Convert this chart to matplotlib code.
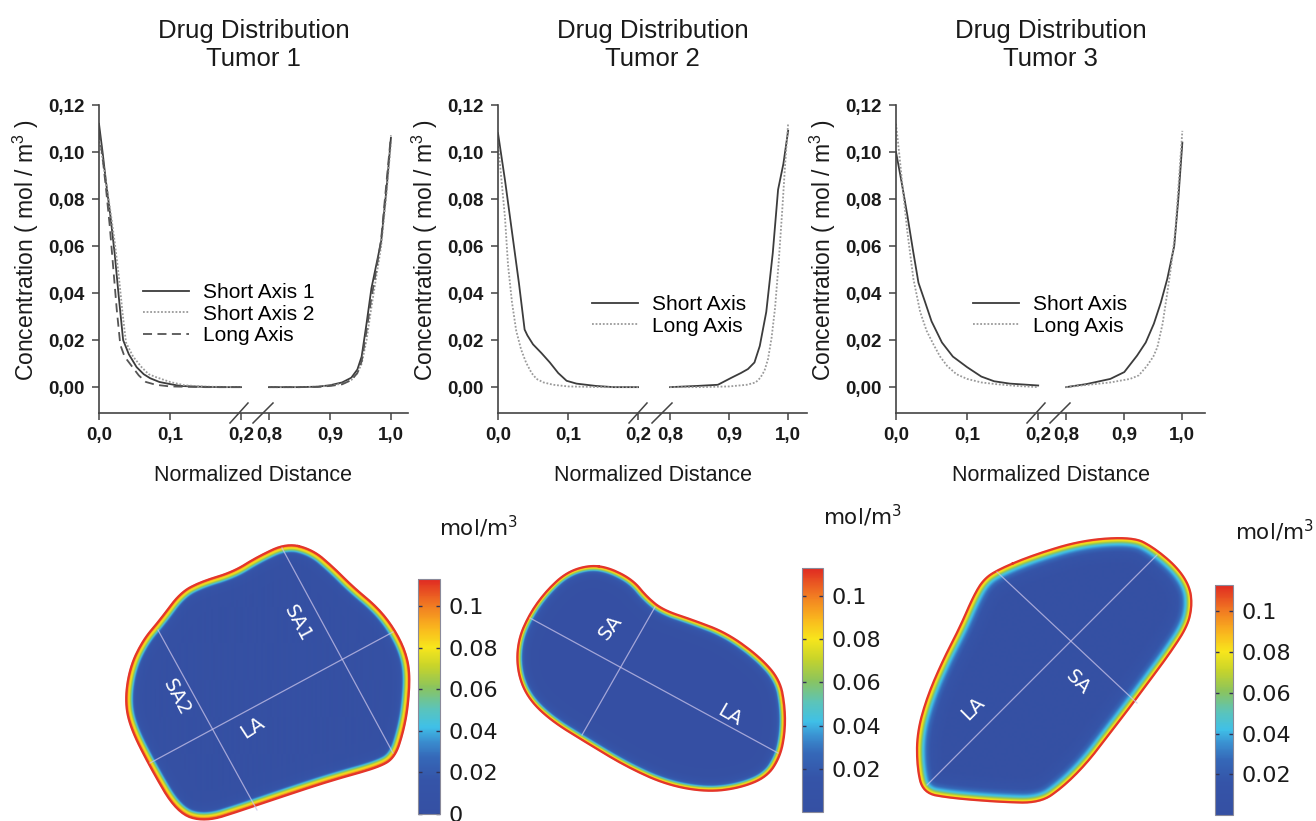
import numpy as np
import matplotlib
matplotlib.use("Agg")
import matplotlib.pyplot as plt
from matplotlib.path import Path
from matplotlib.colors import LinearSegmentedColormap, Normalize
from matplotlib.cm import ScalarMappable

plt.rcParams['font.family'] = ['Liberation Sans', 'DejaVu Sans']
plt.rcParams['mathtext.default'] = 'regular'

W, H = 1316, 821

# ---------------- DATA: concentration profiles -------------
# Tumor 1
t1_sa1_lx = [0.0, 0.005, 0.010, 0.016, 0.022, 0.028, 0.034, 0.042, 0.053, 0.063, 0.072, 0.085, 0.100, 0.115, 0.140, 0.170, 0.200]
t1_sa1_ly = [0.112, 0.100, 0.087, 0.073, 0.057, 0.038, 0.020, 0.014, 0.0085, 0.0055, 0.0038, 0.0022, 0.0013, 0.0005, 0.0002, 0.0, 0.0]
t1_sa2_lx = [0.0, 0.005, 0.010, 0.016, 0.022, 0.028, 0.033, 0.038, 0.048, 0.060, 0.070, 0.080, 0.100, 0.120, 0.150, 0.200]
t1_sa2_ly = [0.106, 0.097, 0.087, 0.075, 0.062, 0.047, 0.032, 0.019, 0.013, 0.0085, 0.0055, 0.0043, 0.0022, 0.0008, 0.0002, 0.0]
t1_la_lx = [0.0, 0.005, 0.010, 0.015, 0.020, 0.025, 0.030, 0.036, 0.046, 0.056, 0.066, 0.080, 0.100, 0.150, 0.200]
t1_la_ly = [0.109, 0.098, 0.084, 0.069, 0.051, 0.033, 0.018, 0.013, 0.009, 0.005, 0.0022, 0.001, 0.0003, 0.0, 0.0]
t1_rx = [0.80, 0.85, 0.88, 0.90, 0.92, 0.935, 0.945, 0.952, 0.96, 0.968, 0.976, 0.984, 0.993, 1.0]
t1_sa1_ry = [0.0, 0.0, 0.0002, 0.0008, 0.002, 0.004, 0.0075, 0.013, 0.027, 0.042, 0.052, 0.062, 0.085, 0.106]
t1_sa2_ry = [0.0, 0.0, 0.0002, 0.0006, 0.0015, 0.003, 0.006, 0.010, 0.020, 0.034, 0.047, 0.060, 0.083, 0.104]
t1_la_ry = [0.0, 0.0, 0.0001, 0.0005, 0.0012, 0.003, 0.006, 0.011, 0.024, 0.038, 0.050, 0.063, 0.088, 0.107]

# Tumor 2
t2_sa_lx = [0.0, 0.010, 0.020, 0.030, 0.038, 0.042, 0.050, 0.062, 0.074, 0.086, 0.098, 0.112, 0.140, 0.165, 0.200]
t2_sa_ly = [0.108, 0.088, 0.066, 0.044, 0.0245, 0.022, 0.0182, 0.0145, 0.0105, 0.006, 0.0027, 0.0015, 0.0005, 0.0, 0.0]
t2_la_lx = [0.0, 0.005, 0.010, 0.0143, 0.020, 0.026, 0.033, 0.040, 0.048, 0.055, 0.065, 0.079, 0.100, 0.150, 0.200]
t2_la_ly = [0.104, 0.088, 0.072, 0.052, 0.036, 0.024, 0.016, 0.0105, 0.006, 0.0035, 0.002, 0.001, 0.0003, 0.0, 0.0]
t2_sa_rx = [0.80, 0.845, 0.881, 0.904, 0.920, 0.932, 0.943, 0.952, 0.963, 0.974, 0.983, 0.992, 1.0]
t2_sa_ry = [0.0, 0.0005, 0.001, 0.004, 0.006, 0.0077, 0.0105, 0.0175, 0.032, 0.057, 0.084, 0.095, 0.109]
t2_la_rx = [0.80, 0.85, 0.90, 0.93, 0.945, 0.953, 0.960, 0.966, 0.972, 0.978, 0.984, 0.990, 0.995, 1.0]
t2_la_ry = [0.0, 0.0, 0.0003, 0.001, 0.002, 0.004, 0.007, 0.012, 0.021, 0.034, 0.053, 0.075, 0.095, 0.112]

# Tumor 3
t3_sa_lx = [0.0, 0.008, 0.016, 0.024, 0.0316, 0.040, 0.050, 0.0646, 0.080, 0.100, 0.120, 0.138, 0.160, 0.175, 0.200]
t3_sa_ly = [0.100, 0.087, 0.073, 0.058, 0.0444, 0.037, 0.028, 0.019, 0.013, 0.0085, 0.0045, 0.0025, 0.0015, 0.0012, 0.0007]
t3_la_lx = [0.0, 0.005, 0.010, 0.016, 0.0245, 0.034, 0.043, 0.053, 0.062, 0.072, 0.085, 0.100, 0.120, 0.140, 0.170, 0.200]
t3_la_ly = [0.112, 0.098, 0.083, 0.066, 0.046, 0.032, 0.024, 0.018, 0.013, 0.009, 0.0055, 0.0035, 0.002, 0.0013, 0.0005, 0.0]
t3_sa_rx = [0.80, 0.835, 0.876, 0.900, 0.922, 0.937, 0.951, 0.963, 0.974, 0.986, 0.993, 1.0]
t3_sa_ry = [0.0, 0.0013, 0.0035, 0.0064, 0.0134, 0.019, 0.027, 0.036, 0.046, 0.060, 0.080, 0.104]
t3_la_rx = [0.80, 0.876, 0.91, 0.925, 0.939, 0.950, 0.957, 0.966, 0.974, 0.981, 0.988, 0.994, 1.0]
t3_la_ry = [0.0, 0.002, 0.0035, 0.005, 0.009, 0.013, 0.017, 0.027, 0.040, 0.052, 0.067, 0.088, 0.109]

x_ticks = [0.0, 0.1, 0.2, 0.8, 0.9, 1.0]
x_tick_labels = ['0,0', '0,1', '0,2', '0,8', '0,9', '1,0']
y_ticks = [0.0, 0.02, 0.04, 0.06, 0.08, 0.10, 0.12]
y_tick_labels = ['0,00', '0,02', '0,04', '0,06', '0,08', '0,10', '0,12']
titles = ['Drug Distribution\nTumor 1', 'Drug Distribution\nTumor 2', 'Drug Distribution\nTumor 3']

# ---------------- DATA: tumour outlines (pixel coords) ----------------
t1_outline = [(287, 543), (313, 550), (333, 567), (353, 587), (377, 607), (393, 627), (405, 650),
              (410, 673), (408, 707), (403, 733), (395, 757), (380, 767), (333, 780), (287, 795),
              (243, 810), (205, 822), (177, 813), (150, 767), (130, 727), (125, 700), (130, 667),
              (143, 640), (160, 620), (180, 593), (200, 582), (233, 572), (257, 557)]
t2_outline = [(590, 565), (610, 568), (633, 580), (647, 597), (663, 610), (693, 620), (727, 633),
              (760, 657), (780, 680), (785, 707), (785, 733), (780, 757), (767, 777), (740, 788),
              (707, 792), (667, 785), (627, 767), (587, 743), (550, 720), (527, 697), (517, 670),
              (518, 640), (530, 613), (547, 590), (567, 572)]
t3_outline = [(997, 570), (1033, 555), (1083, 540), (1133, 537), (1153, 547), (1177, 567), (1190, 587),
              (1192, 607), (1187, 627), (1170, 653), (1150, 680), (1130, 707), (1110, 733), (1087, 763),
              (1063, 787), (1040, 803), (1000, 802), (950, 798), (923, 793), (917, 767), (917, 733),
              (927, 697), (943, 660), (960, 627), (973, 597), (983, 580)]
# measurement axes drawn on each tumour (pixel coords)
t1_axes = {'SA1': [(282, 548), (393, 753)], 'SA2': [(158, 630), (257, 810)], 'LA': [(150, 763), (393, 632)]}
t2_axes = {'SA': [(655, 607), (582, 735)], 'LA': [(530, 618), (778, 753)]}
t3_axes = {'LA': [(927, 785), (1157, 555)], 'SA': [(997, 572), (1137, 703)]}
t1_labels = [('SA1', 298, 623, -62), ('SA2', 177, 697, -62), ('LA', 253, 728, 33)]
t2_labels = [('SA', 610, 627, 52), ('LA', 730, 715, -30)]
t3_labels = [('LA', 973, 708, 45), ('SA', 1078, 682, -45)]
cb_ticks_1 = [0.0, 0.02, 0.04, 0.06, 0.08, 0.1]
cb_ticks_23 = [0.02, 0.04, 0.06, 0.08, 0.1]
cb_max = 0.113

fig = plt.figure(figsize=(W / 100, H / 100), dpi=100)

# ---------------- top panels ----------------
panels = [
    dict(l=99, r=408, k=0.859, g=0.0394, xend=1.028,
         lines=[(t1_sa1_lx, t1_sa1_ly, t1_rx, t1_sa1_ry, 'Short Axis 1', 'solid'),
                (t1_sa2_lx, t1_sa2_ly, t1_rx, t1_sa2_ry, 'Short Axis 2', 'dotted'),
                (t1_la_lx, t1_la_ly, t1_rx, t1_la_ry, 'Long Axis', 'dashed')],
         leg=(143, 283)),
    dict(l=498, r=807, k=0.843, g=0.0457, xend=1.032,
         lines=[(t2_sa_lx, t2_sa_ly, t2_sa_rx, t2_sa_ry, 'Short Axis', 'solid'),
                (t2_la_lx, t2_la_ly, t2_la_rx, t2_la_ry, 'Long Axis', 'dotted')],
         leg=(592, 295)),
    dict(l=896, r=1205, k=0.817, g=0.0394, xend=1.039,
         lines=[(t3_sa_lx, t3_sa_ly, t3_sa_rx, t3_sa_ry, 'Short Axis', 'solid'),
                (t3_la_lx, t3_la_ly, t3_la_rx, t3_la_ry, 'Long Axis', 'dotted')],
         leg=(973, 295)),
]
styles = {'solid': dict(color='#3c3c3c', lw=1.3, ls='-'),
          'dotted': dict(color='#9a9a9a', lw=1.3, ls=(0, (1, 1))),
          'dashed': dict(color='#555555', lw=1.3, ls=(0, (5, 3)))}

top_px, bot_px = 105, 413


def make_scale(g, k):
    def fwd(x):
        x = np.asarray(x, float)
        return np.where(x <= 0.2, x,
                        np.where(x >= 0.8, 0.2 + g + (x - 0.8) * k, 0.2 + (x - 0.2) * (g / 0.6)))

    def inv(u):
        u = np.asarray(u, float)
        return np.where(u <= 0.2, u,
                        np.where(u >= 0.2 + g, 0.8 + (u - 0.2 - g) / k, 0.2 + (u - 0.2) * (0.6 / g)))
    return fwd, inv


for i, p in enumerate(panels):
    ax = fig.add_axes([p['l'] / W, 1 - bot_px / H, (p['r'] - p['l']) / W, (bot_px - top_px) / H])
    ax.set_facecolor('none')
    ax.set_xscale('function', functions=make_scale(p['g'], p['k']))
    handles = []
    for lx, ly, rx, ry, lab, st in p['lines']:
        h, = ax.plot(lx, ly, label=lab, **styles[st])
        ax.plot(rx, ry, **styles[st])
        handles.append(h)
    ax.set_xlim(0, p['xend'])
    ax.set_ylim(-0.011, 0.12)
    ax.set_xticks(x_ticks)
    ax.set_xticklabels(x_tick_labels)
    ax.set_yticks(y_ticks)
    ax.set_yticklabels(y_tick_labels)
    ax.minorticks_off()
    for s in ['top', 'right']:
        ax.spines[s].set_visible(False)
    for s in ['left', 'bottom']:
        ax.spines[s].set_linewidth(1.2)
        ax.spines[s].set_color('#444444')
    ax.tick_params(axis='both', direction='out', length=5, width=1.1, color='#444444',
                   labelsize=13.5, pad=5, labelcolor='#1a1a1a')
    for t in ax.get_xticklabels() + ax.get_yticklabels():
        t.set_fontweight('bold')
    ax.set_xlabel('Normalized Distance', fontsize=15.5, color='#1a1a1a')
    ax.xaxis.set_label_coords(0.5, -52 / 308)
    ax.set_ylabel('Concentration ( mol / m$^3$ )', fontsize=16.5, color='#1a1a1a')
    ax.yaxis.set_label_coords(-58 / 309, 0.53)
    # break marks
    for x0, x1 in [(131 / 309, 149 / 309), (154 / 309, 174 / 309)]:
        ax.plot([x0, x1], [-10 / 308, 10 / 308], transform=ax.transAxes, clip_on=False,
                color='#444444', lw=1.1)
    fig.text((p['l'] + p['r']) / 2 / W, 1 - 45 / H, titles[i], ha='center', va='center',
             fontsize=18.5, linespacing=1.2, color='#1a1a1a')
    fig.legend(handles=handles, loc='upper left', bbox_to_anchor=(p['leg'][0] / W, 1 - p['leg'][1] / H),
               bbox_transform=fig.transFigure, frameon=False, fontsize=15, handlelength=2.2,
               handletextpad=0.7, labelspacing=0.12, borderpad=0, borderaxespad=0)

# ---------------- bottom heat maps ----------------
cmap = LinearSegmentedColormap.from_list('comsol_rainbow', [
    (0.00, '#3550a3'), (0.14, '#3554a8'), (0.24, '#3568b8'), (0.31, '#3a8fd0'),
    (0.37, '#3fc0e8'), (0.45, '#5cc4b8'), (0.54, '#8cc45c'), (0.63, '#c8d42a'),
    (0.71, '#f8e61c'), (0.80, '#f9b21e'), (0.89, '#f17a22'), (1.00, '#e02a22')])
norm = Normalize(0, cb_max)

axb = fig.add_axes([0, 0, 1, 1])
axb.set_zorder(-1)
axb.axis('off')


def chaikin(pts, n):
    for _ in range(n):
        q = np.roll(pts, -1, axis=0)
        a = 0.75 * pts + 0.25 * q
        b = 0.25 * pts + 0.75 * q
        pts = np.stack([a, b], axis=1).reshape(-1, 2)
    return pts


def draw_tumor(outline, L, prof_x, prof_y, res=0.5, pad=3):
    pts = chaikin(np.array(outline, float), 3)
    x0, y0 = pts.min(0) - pad
    x1, y1 = pts.max(0) + pad
    xs = np.arange(x0, x1, res) + res / 2
    ys = np.arange(y0, y1, res) + res / 2
    X, Y = np.meshgrid(xs, ys)
    inside = Path(pts).contains_points(np.column_stack([X.ravel(), Y.ravel()])).reshape(X.shape)
    d = np.full(X.shape, np.inf)
    A = pts
    B = np.roll(pts, -1, axis=0)
    for (ax_, ay_), (bx, by) in zip(A, B):
        dx, dy = bx - ax_, by - ay_
        t = np.clip(((X - ax_) * dx + (Y - ay_) * dy) / (dx * dx + dy * dy + 1e-12), 0, 1)
        np.minimum(d, np.hypot(X - ax_ - t * dx, Y - ay_ - t * dy), out=d)
    sd = np.where(inside, d, -d)
    conc = np.interp(np.clip(sd, 0, None) / L, prof_x, prof_y)
    alpha = np.clip(sd / 0.6 + 1.0, 0, 1)
    axb.imshow(conc, cmap=cmap, norm=norm, extent=(x0, x1, y1, y0), origin='upper',
               alpha=alpha, interpolation='bilinear', aspect='auto')
    closed = np.vstack([pts, pts[:1]])
    axb.plot(closed[:, 0], closed[:, 1], color='#e4352a', lw=1.6, solid_joinstyle='round')


def seg_len(seg):
    (a, b), (c, d) = seg
    return np.hypot(c - a, d - b)


draw_tumor(t1_outline, seg_len(t1_axes['SA1']), t1_sa1_lx, t1_sa1_ly)
draw_tumor(t2_outline, seg_len(t2_axes['SA']), t2_sa_lx, t2_sa_ly)
draw_tumor(t3_outline, seg_len(t3_axes['SA']), t3_sa_lx, t3_sa_ly)

for axes_d, labels in [(t1_axes, t1_labels), (t2_axes, t2_labels), (t3_axes, t3_labels)]:
    for seg in axes_d.values():
        axb.plot([seg[0][0], seg[1][0]], [seg[0][1], seg[1][1]], color='#c9c3ea', lw=0.9, alpha=0.75)
    for txt, x, y, rot in labels:
        axb.text(x, y, txt, color='white', fontsize=14, rotation=rot, ha='center', va='center',
                 family='DejaVu Sans', rotation_mode='anchor')

axb.set_xlim(0, W)
axb.set_ylim(H, 0)

# colorbars
cbars = [((418, 440, 579, 814), cb_ticks_1, (478, 527)),
         ((802, 823, 568, 812), cb_ticks_23, (862, 516)),
         ((1215, 1233, 585, 815), cb_ticks_23, (1274, 531))]
for (cx0, cx1, cy0, cy1), ticks, (lx, ly) in cbars:
    cax = fig.add_axes([cx0 / W, 1 - cy1 / H, (cx1 - cx0) / W, (cy1 - cy0) / H])
    sm = ScalarMappable(norm=norm, cmap=cmap)
    cb = fig.colorbar(sm, cax=cax, ticks=ticks)
    cb.ax.set_yticklabels(['%g' % t for t in ticks])
    cb.outline.set_edgecolor('#8a8a9a')
    cb.outline.set_linewidth(0.8)
    cax.tick_params(direction='in', length=3, width=1, color='#333355', left=True, right=True,
                    labelsize=16, pad=6, labelcolor='#1a1a1a')
    for t in cax.get_yticklabels():
        t.set_family('DejaVu Sans')
    fig.text(lx / W, 1 - ly / H, 'mol/m$^3$', ha='center', va='center', fontsize=15.5,
             family='DejaVu Sans', color='#1a1a1a')

fig.savefig('out.png', dpi=100)
